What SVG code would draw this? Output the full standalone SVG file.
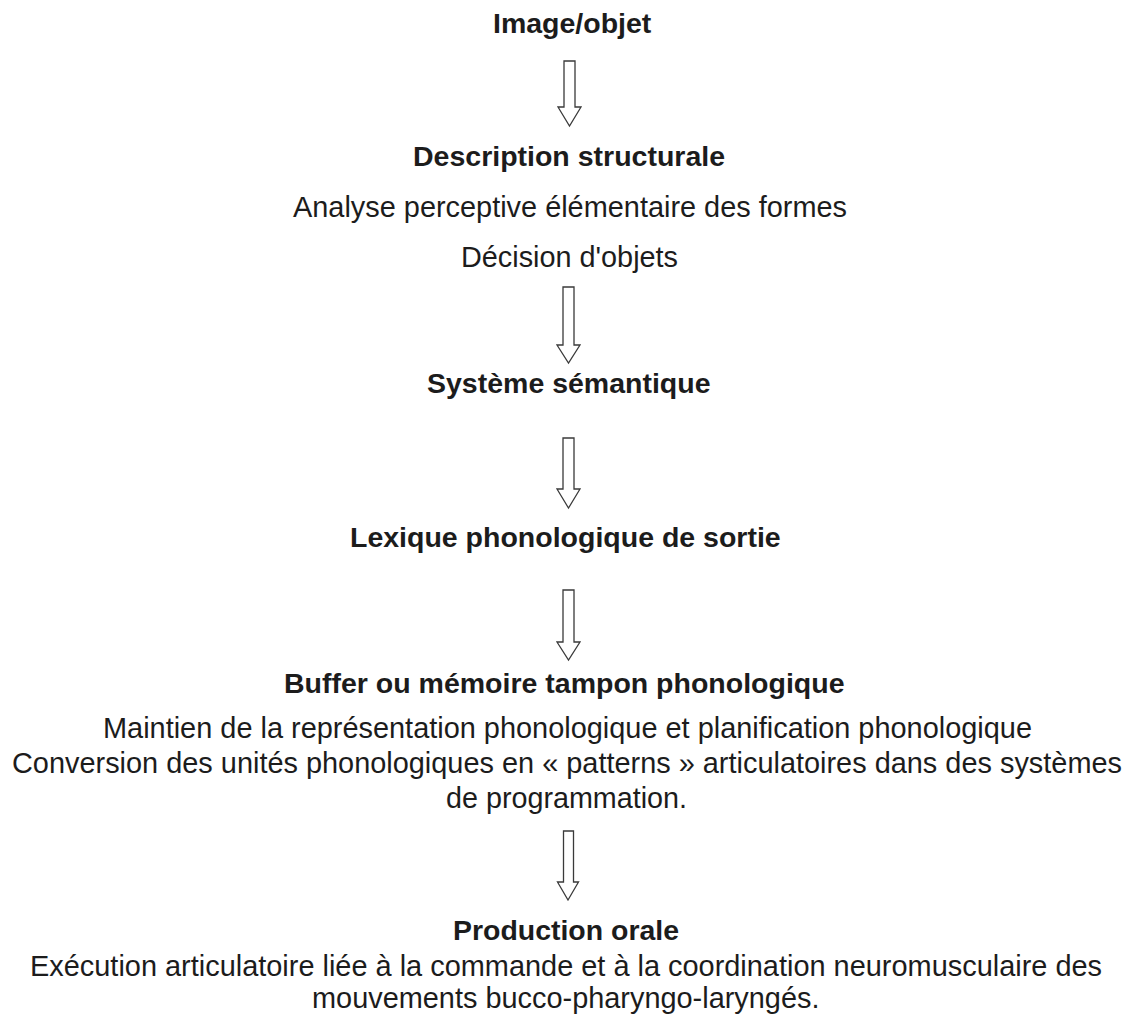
<svg xmlns="http://www.w3.org/2000/svg" width="1132" height="1021" viewBox="0 0 1132 1021">
<style>
text{font-family:"Liberation Sans",Arial,sans-serif;fill:#1c1c1c}
.h{font-weight:bold;font-size:28.5px}
.t{font-size:28.9px}
.arr{fill:#fff;stroke:#3a3a3a;stroke-width:1.3;stroke-linejoin:miter}
</style>
<rect width="1132" height="1021" fill="#fff"/>
<g id="n-image"><text class="h" x="493" y="33">Image/objet</text></g>
<g id="n-description">
<text class="h" x="413" y="166">Description structurale</text>
<text class="t" x="293" y="217">Analyse perceptive élémentaire des formes</text>
<text class="t" x="461" y="267" textLength="217" lengthAdjust="spacingAndGlyphs">Décision d'objets</text>
</g>
<g id="n-semantique"><text class="h" x="427" y="393">Système sémantique</text></g>
<g id="n-lexique"><text class="h" x="350" y="547">Lexique phonologique de sortie</text></g>
<g id="n-buffer">
<text class="h" x="284" y="693">Buffer ou mémoire tampon phonologique</text>
<text class="t" x="103" y="738" textLength="929" lengthAdjust="spacingAndGlyphs">Maintien de la représentation phonologique et planification phonologique</text>
<text class="t" x="12" y="773" textLength="1110" lengthAdjust="spacingAndGlyphs">Conversion des unités phonologiques en « patterns » articulatoires dans des systèmes</text>
<text class="t" x="446" y="808" textLength="241" lengthAdjust="spacingAndGlyphs">de programmation.</text>
</g>
<g id="n-production">
<text class="h" x="453" y="940" textLength="226" lengthAdjust="spacingAndGlyphs">Production orale</text>
<text class="t" x="30" y="976" textLength="1072" lengthAdjust="spacingAndGlyphs">Exécution articulatoire liée à la commande et à la coordination neuromusculaire des</text>
<text class="t" x="312" y="1008">mouvements bucco-pharyngo-laryngés.</text>
</g>
<g id="connectors">
<path class="arr" d="M564,61 H575 V107 H581 L569.5,126 L558,107 H564 Z"/>
<path class="arr" d="M563,287 H574 V345 H580 L568.5,363 L557,345 H563 Z"/>
<path class="arr" d="M563,438 H574 V489 H580 L568.5,508 L557,489 H563 Z"/>
<path class="arr" d="M563,590 H574 V642 H580 L568.5,660 L557,642 H563 Z"/>
<path class="arr" d="M563.5,831 H573.5 V882 H578.5 L568,900 L557.5,882 H563.5 Z"/>
</g>
</svg>
